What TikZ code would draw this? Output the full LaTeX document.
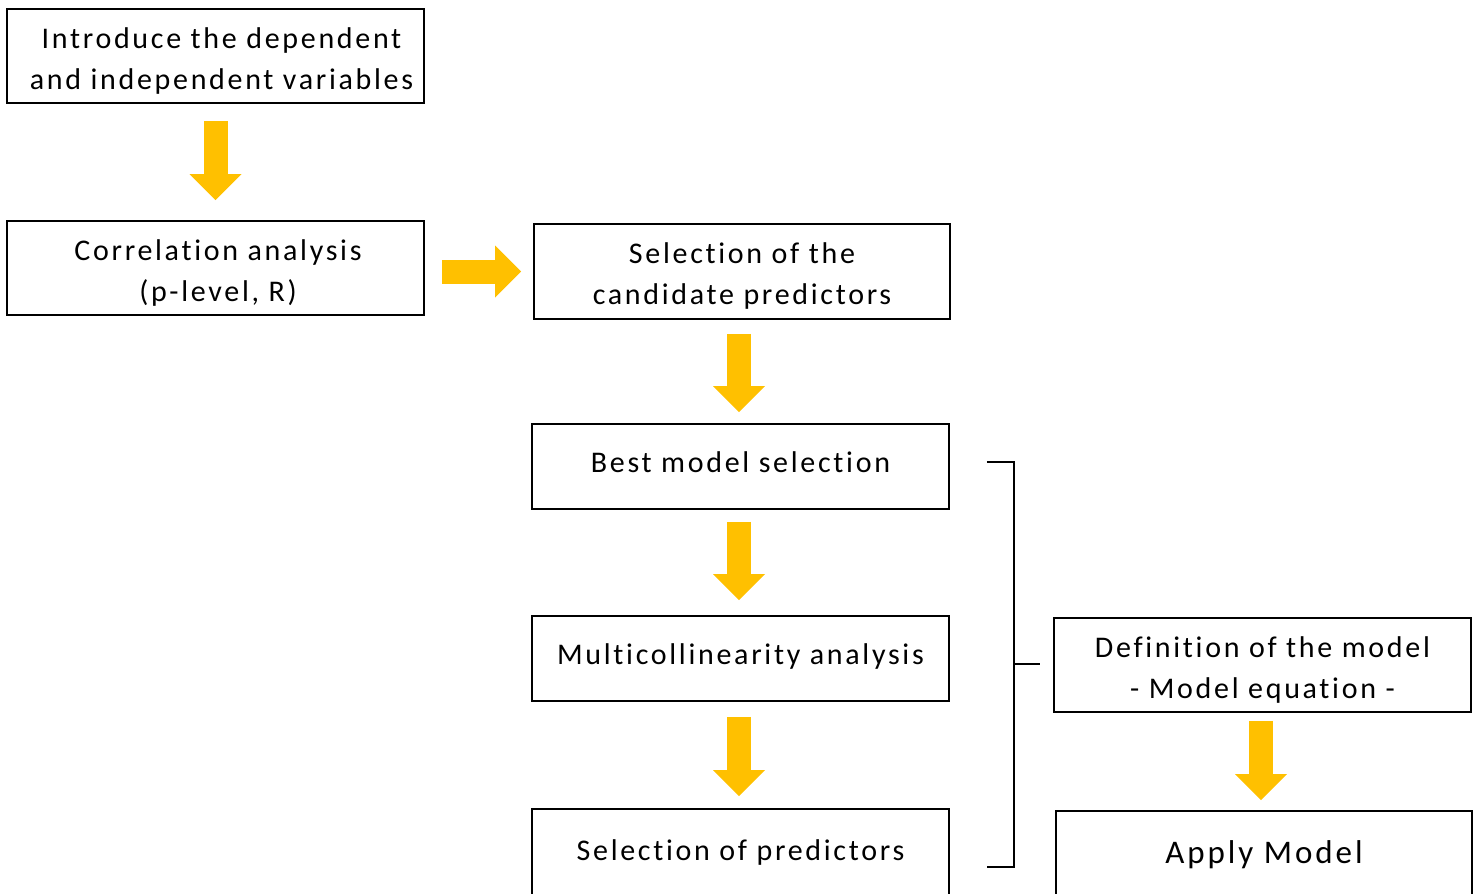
\documentclass[tikz,border=0pt]{standalone}
\usepackage{fontspec}
\setmainfont{Carlito}[LetterSpace=9,Ligatures={NoCommon,NoContextual}]
\usetikzlibrary{arrows.meta,calc}
\definecolor{flowgold}{HTML}{FFC000}
% lift the first line of a two-line box so the pair sits a little lower
\newcommand\firstline{\rule{0pt}{30pt}}
\begin{document}
\begin{tikzpicture}[x=1pt,y=-1pt,
  box/.style={draw, line width=1.6pt, inner sep=0pt, align=center,
    font=\fontsize{30}{41}\selectfont},
  oneline/.style={text height=20pt, text depth=9pt},
  flow/.style={draw=flowgold, line width=24pt,
    -{Triangle[width=52pt,length=26pt,line width=0pt]}},
  brace/.style={draw, line width=1.6pt}]
\useasboundingbox (0,0) rectangle (1481,894);
\begin{scope}
\clip (0,0) rectangle (1481,894);
% process boxes
\node[box, minimum width=417pt, minimum height=94pt] (intro) at (215.5,56)
  {\firstline\hspace*{12pt}Introduce the dependent\\\hspace*{12pt}and independent variables};
\node[box, minimum width=417pt, minimum height=94pt] (corr) at (215.5,268)
  {\firstline\hspace*{5pt}Correlation analysis\\\hspace*{5pt}(p-level, R)};
\node[box, minimum width=416pt, minimum height=95pt] (cand) at (742,271.5)
  {\firstline Selection of the\\candidate predictors};
\node[box, oneline, minimum width=417pt, minimum height=85pt] (best) at (740.5,466.5)
  {Best model selection};
\node[box, oneline, minimum width=417pt, minimum height=85pt] (multi) at (740.5,658.5)
  {Multicollinearity analysis};
\node[box, oneline, minimum width=417pt, minimum height=91pt] (pred) at (740.5,854.5)
  {Selection of predictors};
\node[box, minimum width=417pt, minimum height=94pt] (defn) at (1262.5,665)
  {\firstline Definition of the model\\- Model equation -};
\node[box, oneline, minimum width=416pt, minimum height=93pt,
  font=\fontsize{33}{41}\selectfont] (apply) at (1264,857.5) {Apply Model};
% block arrows between the steps
\draw[flow, shorten <=17pt, shorten >=20pt] (intro.south) -- (corr.north);
\draw[flow, shorten <=17pt, shorten >=12pt] (corr.east |- cand.west) -- (cand.west);
\draw[flow, shorten <=14pt, shorten >=11pt] ($(best.north |- cand.south)+(-1.5,0)$) -- ($(best.north)+(-1.5,0)$);
\draw[flow, shorten <=12pt, shorten >=15pt] ($(best.south)+(-1.5,0)$) -- ($(multi.north)+(-1.5,0)$);
\draw[flow, shorten <=15pt, shorten >=12pt] ($(multi.south)+(-1.5,0)$) -- ($(pred.north)+(-1.5,0)$);
\draw[flow, shorten <=8pt, shorten >=10pt] ($(defn.south)+(-1.5,0)$) -- ($(defn.south |- apply.north)+(-1.5,0)$);
% bracket grouping the modelling steps
\coordinate (bt) at ($(best.east)+(37,-4.5)$);
\coordinate (bb) at ($(pred.east)+(37,12.5)$);
\coordinate (bm) at ($(defn.west)+(-41,-1)$);
\draw[brace] (bt) -- ++(27,0) coordinate (btr) -- (btr |- bb) -- (bb);
\draw[brace] (btr |- bm) -- ($(bm)+(28,0)$);
\end{scope}
\end{tikzpicture}
\end{document}
